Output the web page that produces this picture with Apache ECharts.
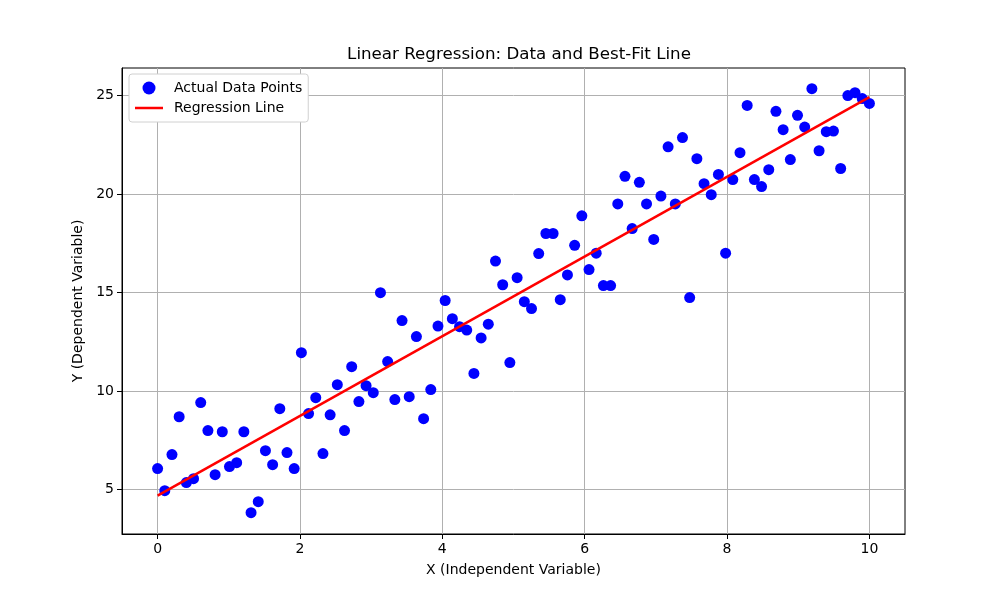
<!DOCTYPE html>
<html><head><meta charset="utf-8">
<script src="https://cdn.jsdelivr.net/npm/echarts@6/dist/echarts.min.js"></script>
<style>html,body{margin:0;padding:0;background:#fff}#c{width:1000px;height:596px}</style>
</head><body><div id="c"></div>
<script>
const xValues = [0,0.101,0.202,0.303,0.404,0.505,0.606,0.707,0.808,0.909,1.010,1.111,1.212,1.313,1.414,1.515,1.616,1.717,1.818,1.919,2.020,2.121,2.222,2.323,2.424,2.525,2.626,2.727,2.828,2.929,3.030,3.131,3.232,3.333,3.434,3.535,3.636,3.737,3.838,3.939,4.040,4.141,4.242,4.343,4.444,4.545,4.646,4.747,4.848,4.949,5.051,5.152,5.253,5.354,5.455,5.556,5.657,5.758,5.859,5.960,6.061,6.162,6.263,6.364,6.465,6.566,6.667,6.768,6.869,6.970,7.071,7.172,7.273,7.374,7.475,7.576,7.677,7.778,7.879,7.980,8.081,8.182,8.283,8.384,8.485,8.586,8.687,8.788,8.889,8.990,9.091,9.192,9.293,9.394,9.495,9.596,9.697,9.798,9.899,10];
const yValues = [6.07,4.95,6.78,8.7,5.36,5.56,9.42,8.0,5.76,7.94,6.17,6.37,7.94,3.83,4.39,6.98,6.27,9.11,6.88,6.07,11.95,8.86,9.67,6.83,8.8,10.33,8.0,11.24,9.47,10.28,9.92,15.0,11.5,9.57,13.58,9.72,12.77,8.6,10.08,13.3,14.6,13.68,13.27,13.1,10.9,12.7,13.4,16.6,15.4,11.45,15.76,14.54,14.19,16.98,18.0,18.0,14.64,15.9,17.4,18.9,16.17,17.0,15.36,15.36,19.5,20.9,18.25,20.6,19.5,17.7,19.9,22.4,19.5,22.87,14.75,21.8,20.53,19.97,21.0,17.0,20.74,22.1,24.5,20.74,20.38,21.24,24.2,23.27,21.75,24.0,23.4,25.35,22.2,23.17,23.2,21.3,25.0,25.15,24.85,24.6];
const regX = [0, 10];
const regY = [4.7, 24.92];
const xTicks = [0,2,4,6,8,10];
const yTicks = [5,10,15,20,25];

const scatterData = xValues.map((x,i)=>[x,yValues[i]]);
const lineData = regX.map((x,i)=>[x,regY[i]]);
const font = 'DejaVu Sans';
const chart = echarts.init(document.getElementById('c'));
chart.setOption({
  animation:false,
  textStyle:{fontFamily:font},
  title:{text:'Linear Regression: Data and Best-Fit Line',left:514,top:41,textAlign:'center',
    textStyle:{fontFamily:font,fontSize:16.7,fontWeight:'normal',color:'#000'}},
  grid:{left:122,right:95,top:68,bottom:62,show:true,borderColor:'#000',borderWidth:1,backgroundColor:'transparent'},
  legend:{orient:'vertical',left:129,top:74,itemGap:6,itemWidth:28,itemHeight:13,
    backgroundColor:'#fff',borderColor:'#d0d0d0',borderWidth:1,borderRadius:3,padding:[7,6,7,6],
    textStyle:{fontFamily:font,fontSize:14,color:'#000',padding:[0,0,0,6]},
    data:[{name:'Actual Data Points',icon:'circle'},
          {name:'Regression Line',icon:'path://M0,0H28V2.5H0Z'}]},
  xAxis:{type:'value',min:-0.5,max:10.5,
    name:'X (Independent Variable)',nameLocation:'middle',nameGap:29,
    nameTextStyle:{fontFamily:font,fontSize:14,color:'#000'},
    axisLine:{show:true,onZero:false,lineStyle:{color:'#000'}},
    axisTick:{show:true,inside:false,length:5,customValues:xTicks,lineStyle:{color:'#000'}},
    axisLabel:{customValues:xTicks,fontFamily:font,fontSize:14,color:'#000',margin:8},
    splitLine:{show:true,lineStyle:{color:'#b0b0b0',width:1}}},
  yAxis:{type:'value',min:2.75,max:26.4,
    name:'Y (Dependent Variable)',nameLocation:'middle',nameGap:35,nameRotate:90,
    nameTextStyle:{fontFamily:font,fontSize:14,color:'#000'},
    axisLine:{show:true,onZero:false,lineStyle:{color:'#000'}},
    axisTick:{show:true,inside:false,length:5,customValues:yTicks,lineStyle:{color:'#000'}},
    axisLabel:{customValues:yTicks,fontFamily:font,fontSize:14,color:'#000',margin:8},
    splitLine:{show:true,lineStyle:{color:'#b0b0b0',width:1}}},
  series:[
    {name:'Actual Data Points',type:'scatter',data:scatterData,symbolSize:11,
      itemStyle:{color:'#0000ff',opacity:1},z:2},
    {name:'Regression Line',type:'line',data:lineData,symbol:'none',
      lineStyle:{color:'#ff0000',width:2.5},itemStyle:{color:'#ff0000'},z:3}
  ]
});
</script></body></html>
